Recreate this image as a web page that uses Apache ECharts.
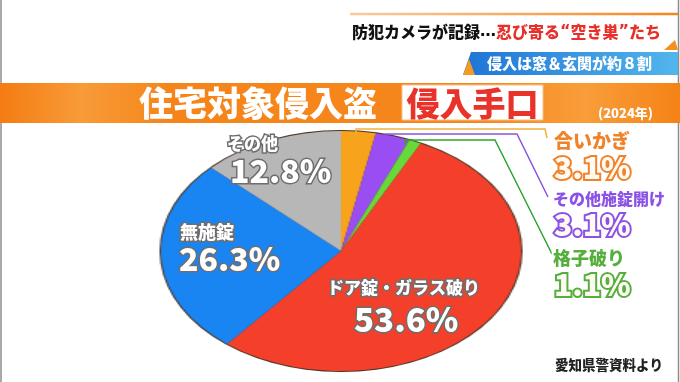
<!DOCTYPE html>
<html><head><meta charset="utf-8">
<script src="https://cdn.jsdelivr.net/npm/echarts@6/dist/echarts.min.js"></script>
<style>
html,body{margin:0;padding:0;background:#fff;}
#wrap{position:relative;width:680px;height:382px;overflow:hidden;background:#fff;}
#pie{position:absolute;left:219px;top:129px;width:244px;height:244px;transform:scaleX(1.5);transform-origin:50% 50%;}
#fg{position:absolute;left:0;top:0;width:680px;height:382px;}
</style></head>
<body><div id="wrap"><div id="pie"></div><div id="fg"></div></div>
<script>
// ---- data ----
const categories = ['合いかぎ', 'その他施錠開け', '格子破り', 'ドア錠・ガラス破り', '無施錠', 'その他'];
const values = [3.1, 3.1, 1.1, 53.6, 26.3, 12.8];
const sliceColors = ['#F8A31C', '#9A4DF2', '#66DA3A', '#F4402A', '#1985F3', '#B7B7B7'];
const pct = v => v.toFixed(1) + '%';
const FONT = '"Noto Sans CJK JP", "Noto Sans", sans-serif';
const W = '900';

// ---- pie (stretched to an ellipse) ----
const pie = echarts.init(document.getElementById('pie'), null, {renderer: 'canvas'});
pie.setOption({
  animation: false,
  series: [
    {type: 'pie', radius: 121, center: ['50%', '50%'], silent: true, z: 1,
     label: {show: false}, labelLine: {show: false}, emphasis: {disabled: true},
     data: [{value: 1, itemStyle: {color: '#4a3426'}}]},
    {type: 'pie', radius: 120, center: ['50%', '50%'], startAngle: 90, clockwise: true, z: 2,
     label: {show: false}, labelLine: {show: false}, emphasis: {disabled: true}, silent: true,
     itemStyle: {borderWidth: 0},
     data: categories.map((c, i) => ({name: c, value: values[i], itemStyle: {color: sliceColors[i]}}))}
  ]
});

// ---- overlay: header, banner, labels ----
function txt(text, x, y, size, fill, extra) {
  return Object.assign({type: 'text', x: x, y: y, z: 10,
    style: Object.assign({text: text, fill: fill, font: W + ' ' + size + 'px ' + FONT,
      textAlign: 'left', textVerticalAlign: 'middle'}, extra || {})});
}
function pieLabel(text, x, y, size) {
  return txt(text, x, y, size, '#ffffff', {stroke: '#6e6e6e', lineWidth: 3,
    shadowColor: 'rgba(0,0,0,0.45)', shadowBlur: 3, shadowOffsetX: 1, shadowOffsetY: 1});
}
function sideName(text, x, y, size, color) {
  return txt(text, x, y, size, color, {stroke: '#ffffff', lineWidth: 4,
    shadowColor: 'rgba(0,0,0,0.25)', shadowBlur: 3});
}
function sideVal(text, x, y, size, color) {
  return txt(text, x, y, size, '#fffaf2', {stroke: color, lineWidth: 4,
    shadowColor: 'rgba(0,0,0,0.2)', shadowBlur: 2});
}
const ORANGE = '#F0822A', PURPLE = '#8C52E6', GREEN = '#56AE3C';
const HF = W + ' 16px ' + FONT;
const QF = 'bold 16px "DejaVu Sans", sans-serif';

const elements = [
  // frame lines
  {type: 'line', shape: {x1: 1, y1: 0, x2: 1, y2: 382}, style: {stroke: '#8d8d8d', lineWidth: 1.5}},
  {type: 'line', shape: {x1: 678.5, y1: 0, x2: 678.5, y2: 382}, style: {stroke: '#8d8d8d', lineWidth: 1.5}},
  // header line
  {type: 'line', shape: {x1: 350, y1: 14, x2: 678, y2: 14},
   style: {lineWidth: 2.5, stroke: new echarts.graphic.LinearGradient(0, 0, 1, 0,
     [{offset: 0, color: 'rgba(245,150,60,0.5)'}, {offset: 1, color: '#F5841C'}])}},
  {type: 'text', x: 352, y: 32, z: 10, style: {
    text: '{a|防犯カメラが記録}{d|…}{b|忍び寄る}{q|“}{b|空き巣}{q|”}{b|たち}',
    textAlign: 'left', textVerticalAlign: 'middle', font: HF,
    rich: {a: {font: HF, fill: '#111111'}, d: {font: QF, fill: '#111111'},
           b: {font: HF, fill: '#E8302A'}, q: {font: QF, fill: '#E8302A'}}}},
  {type: 'polygon', shape: {points: [[664, 50], [675, 40], [678, 50]]}, style: {fill: '#F5901E'}},
  // blue sub banner
  {type: 'polygon', shape: {points: [[471, 52], [678, 52], [678, 75], [463, 75]]},
   style: {fill: new echarts.graphic.LinearGradient(0, 0, 1, 0,
     [{offset: 0, color: '#1F74D6'}, {offset: 1, color: '#52B6EC'}])}},
  {type: 'polygon', shape: {points: [[463, 75], [469, 59], [475, 75]]}, style: {fill: '#F59A22'}},
  txt('侵入は窓＆玄関が約８割', 487, 63, 15, '#ffffff', {shadowColor: 'rgba(0,0,60,0.5)', shadowBlur: 2}),
  // orange title banner
  {type: 'rect', shape: {x: 0, y: 83, width: 680, height: 40},
   style: {fill: new echarts.graphic.LinearGradient(0, 0, 1, 0, [
     {offset: 0, color: '#F47C12'}, {offset: 0.12, color: '#F89B38'}, {offset: 0.25, color: '#F5851A'},
     {offset: 0.7, color: '#F6871C'}, {offset: 0.86, color: '#F99D3A'}, {offset: 1, color: '#F58316'}])}},
  txt('住宅対象侵入盗', 139, 103, 34, '#ffffff', {shadowColor: 'rgba(150,60,0,0.7)', shadowBlur: 3, shadowOffsetX: 1, shadowOffsetY: 1}),
  {type: 'rect', shape: {x: 402, y: 85, width: 141, height: 35}, style: {fill: '#ffffff', stroke: '#f9c089', lineWidth: 1}},
  txt('侵入手口', 472.5, 103, 33, '#E8322A', {textAlign: 'center'}),
  txt('(2024年)', 598, 113, 13, '#ffffff', {shadowColor: 'rgba(150,60,0,0.6)', shadowBlur: 2}),
  // leader lines
  {type: 'polyline', shape: {points: [[356, 135], [356, 129], [545, 129], [547, 138]]}, style: {stroke: '#F2B03A', lineWidth: 1.5, fill: null}},
  {type: 'polyline', shape: {points: [[386, 139], [386, 134], [517, 134], [548, 197]]}, style: {stroke: '#8A55E0', lineWidth: 1.5, fill: null}},
  {type: 'polyline', shape: {points: [[405, 145], [405, 140], [495, 140], [552, 254]]}, style: {stroke: '#2EA52E', lineWidth: 1.5, fill: null}},
  // pie labels
  pieLabel(categories[5], 227, 144, 17),
  pieLabel(pct(values[5]), 230, 171, 32),
  pieLabel(categories[4], 180, 232, 18),
  pieLabel(pct(values[4]), 179, 259, 32),
  pieLabel(categories[3], 327, 288, 17),
  pieLabel(pct(values[3]), 354, 319, 33),
  // side labels
  sideName(categories[0], 554, 141, 19, ORANGE),
  sideVal(pct(values[0]), 554, 168, 30, ORANGE),
  sideName(categories[1], 553, 199, 16, PURPLE),
  sideVal(pct(values[1]), 554, 225, 30, PURPLE),
  sideName(categories[2], 553, 258, 18, GREEN),
  sideVal(pct(values[2]), 554, 285, 30, GREEN),
  // source
  txt('愛知県警資料より', 555, 365, 13.5, '#222222')
];

const fg = echarts.init(document.getElementById('fg'), null, {renderer: 'canvas'});
fg.setOption({animation: false, graphic: {elements: elements}});
</script>
</body></html>
